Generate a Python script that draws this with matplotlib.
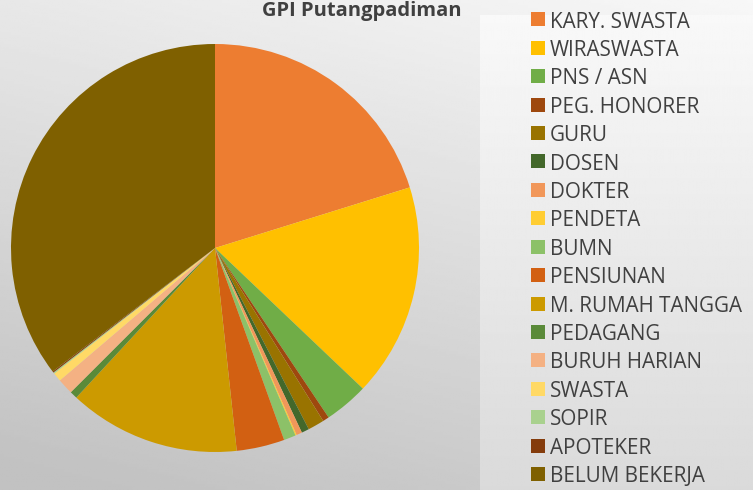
import matplotlib
matplotlib.use("Agg")
import matplotlib.pyplot as plt
import matplotlib.patches as mpatches
import numpy as np

plt.rcParams["font.family"] = ["Open Sans", "DejaVu Sans"]

# data (percent share)
jobs = ["KARY. SWASTA", "WIRASWASTA", "PNS / ASN", "PEG. HONORER", "GURU",
        "DOSEN", "DOKTER", "PENDETA", "BUMN", "PENSIUNAN", "M. RUMAH TANGGA",
        "PEDAGANG", "BURUH HARIAN", "SWASTA", "SOPIR", "APOTEKER", "BELUM BEKERJA"]
shares = [20.2, 16.9, 3.5, 0.5, 1.3, 0.6, 0.45, 0.1, 0.95, 3.8, 13.6,
          0.6, 1.25, 0.7, 0.1, 0.1, 35.35]
colors = ["#ED7D31", "#FFC000", "#70AD47", "#9E480E", "#997300",
          "#43682B", "#F1975A", "#FFCD33", "#8CC168", "#D26012", "#CC9A00",
          "#5A8A39", "#F4B183", "#FFD966", "#A9D18E", "#843C0C", "#7F6000"]
title = "GPI Putangpadiman"

W, H = 753, 490
fig = plt.figure(figsize=(W / 100, H / 100), dpi=100)

# background gradient
bg = fig.add_axes([0, 0, 1, 1], zorder=0)
yy, xx = np.mgrid[0:1:200j, 0:1:300j]
shade = 0.97 - 0.21 * np.clip(0.9 * yy + 0.35 * (1 - xx), 0, 1.2) / 1.2
bg.imshow(shade, cmap="gray", vmin=0, vmax=1, extent=[0, 1, 0, 1],
          aspect="auto", origin="upper")
# legend panel
panel = 0.975 - 0.12 * yy
bg.imshow(panel, cmap="gray", vmin=0, vmax=1,
          extent=[480 / W, 1, 0, 1 - 16 / H], aspect="auto", origin="upper")
bg.set_xlim(0, 1)
bg.set_ylim(0, 1)
bg.axis("off")

# pie
cx, cy, r = 215, 248, 204
ax = fig.add_axes([(cx - r) / W, (H - cy - r) / H, 2 * r / W, 2 * r / H], zorder=1)
ax.pie(shares, colors=colors, startangle=90, counterclock=False, radius=1,
       wedgeprops=dict(linewidth=0))
ax.set_xlim(-1, 1)
ax.set_ylim(-1, 1)
ax.set_aspect("equal")
ax.axis("off")

# legend, drawn by hand so rows line up with the reference
for i, (name, c) in enumerate(zip(jobs, colors)):
    yc = 19.5 + i * 28.4
    fig.patches.append(mpatches.Rectangle((531 / W, 1 - (yc + 7) / H), 14 / W, 14 / H,
                                          transform=fig.transFigure, facecolor=c,
                                          edgecolor="none", zorder=3))
    fig.text(550 / W, 1 - yc / H, name, ha="left", va="center_baseline",
             fontsize=14.9, color="#404040", zorder=3)

fig.text(362 / W, 1 - 1 / H, title, ha="center", va="top",
         fontsize=14.5, fontweight="bold", color="#404040")

fig.savefig("out.png", dpi=100)
